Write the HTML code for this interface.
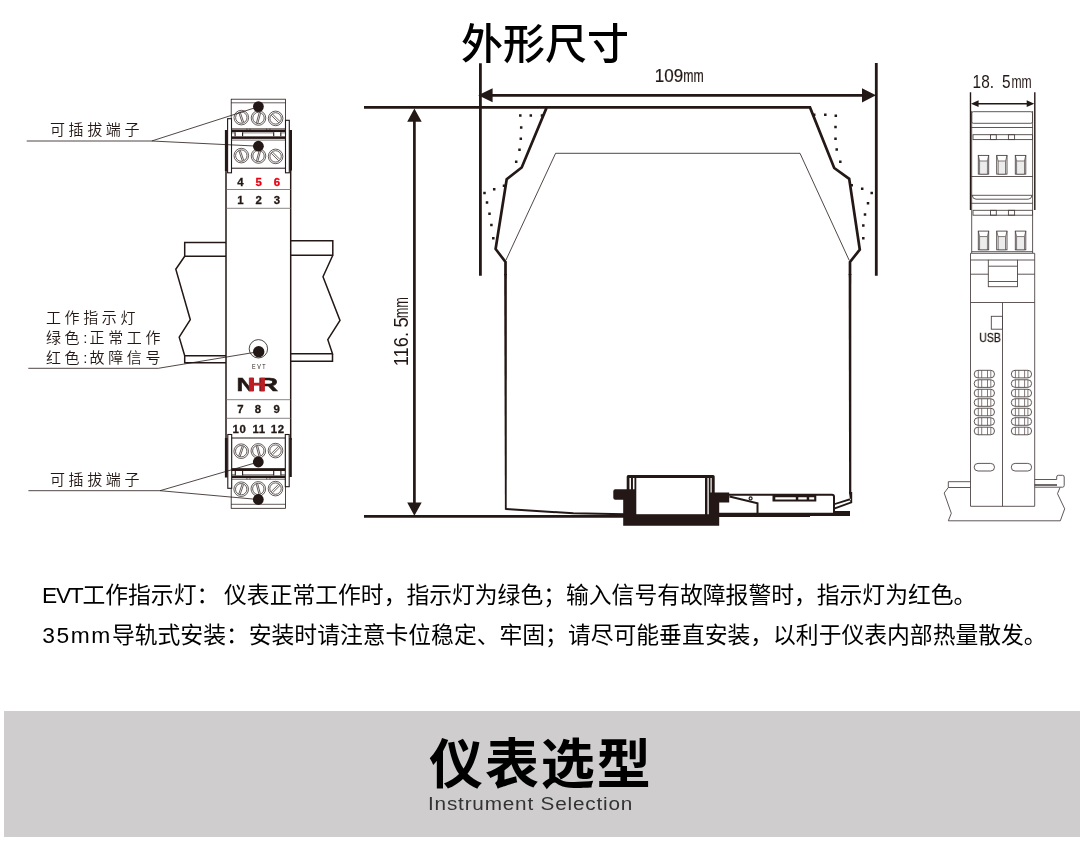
<!DOCTYPE html>
<html lang="zh-CN">
<head>
<meta charset="utf-8">
<title>外形尺寸</title>
<style>
html,body{margin:0;padding:0;background:#fff;}
body{width:1080px;height:849px;position:relative;overflow:hidden;font-family:"Liberation Sans","Noto Sans CJK SC",sans-serif;color:#000;}
#title{position:absolute;left:0;top:0;width:1080px;text-align:center;font-size:41px;font-weight:500;line-height:41px;color:#000;white-space:nowrap;}
#title span{position:absolute;left:461px;top:24px;font-size:42px;line-height:42px;}
.para{position:absolute;left:43px;white-space:nowrap;font-size:22.8px;line-height:30px;color:#000;font-weight:400;}
.para i{font-style:normal;}
#p1{top:580px;word-spacing:-1.5px;left:42.3px;}
#p2{top:620px;}
#banner{position:absolute;left:4px;top:711px;width:1076px;height:126px;background:#cfcdce;}
#bt{position:absolute;left:429px;top:735px;font-size:54px;line-height:60px;font-weight:700;white-space:nowrap;color:#000;letter-spacing:1.9px;}
#bs{position:absolute;left:428px;top:792px;font-size:19.2px;line-height:24px;white-space:nowrap;color:#333;letter-spacing:.75px;transform:scaleX(1.08);transform-origin:0 0;}
svg{position:absolute;left:0;top:0;}
#title,.para,#bt,#bs,svg{will-change:transform;}
svg text{font-family:"Liberation Sans","Noto Sans CJK SC",sans-serif;}
</style>
</head>
<body>
<div id="title"><span>外形尺寸</span></div>
<svg id="dw" width="1080" height="560" viewBox="0 0 1080 560">
<!--LEFT-->
<g id="left" fill="none" stroke-linecap="butt">
<path d="M226 242.5H184.7V256.3H226M184.7 256.3L175.8 269.2L190.3 319.7L179.2 337.2L184.7 355.8H226M184.7 355.8V362.8H226" stroke="#231815" stroke-width="1.5" stroke-linejoin="miter"/>
<path d="M290.7 240.8H332.8V255.3H290.7M332.8 255.3L323 276.7L340 320.5L327.8 339.7L332.5 353.8H290.7M332.5 353.8V361.3H290.7" stroke="#231815" stroke-width="1.5"/>
<rect x="226" y="168" width="64.7" height="272" fill="#fff" stroke="none"/>
<path d="M226 168V440M290.7 168V440" stroke="#231815" stroke-width="1.5"/>
<line x1="226" y1="189.5" x2="290.7" y2="189.5" stroke="#6b6765" stroke-width=".8"/>
<line x1="226" y1="208.3" x2="290.7" y2="208.3" stroke="#6b6765" stroke-width=".8"/>
<line x1="226" y1="399.7" x2="290.7" y2="399.7" stroke="#6b6765" stroke-width=".8"/>
<line x1="226" y1="418.3" x2="290.7" y2="418.3" stroke="#6b6765" stroke-width=".8"/>
<rect x="231.2" y="99.2" width="54.2" height="31" fill="#fff" stroke="#231815" stroke-width=".8"/>
<line x1="231.2" y1="102.8" x2="285.4" y2="102.8" stroke="#231815" stroke-width=".7"/>
<rect x="231.5" y="138" width="54" height="30.2" fill="#fff" stroke="#231815" stroke-width="1"/>
<line x1="231.5" y1="140.1" x2="285.5" y2="140.1" stroke="#231815" stroke-width=".6"/>
<path d="M231.5 128.6H285.5M246.9 128.6V130M250 128.6V130M266.7 128.6V130M270 128.6V130" stroke="#231815" stroke-width=".6"/>
<rect x="231" y="129.6" width="55" height="2.8" fill="#231815"/>
<rect x="231" y="136.1" width="55" height="2.7" fill="#231815"/>
<rect x="231.5" y="132.2" width="54" height="4.1" fill="#fff"/>
<path d="M235.1 132.2V136.3M242.6 132.2V136.3M273.7 132.2V136.3M280.8 132.2V136.3" stroke="#231815" stroke-width="1.1"/>
<path d="M231.5 132.9H235.1M242.6 132.9H273.7M280.8 132.9H285.5" stroke="#231815" stroke-width=".5"/>
<rect x="224.9" y="130" width="2.8" height="41" fill="#231815"/>
<rect x="289.2" y="130" width="2.8" height="40.5" fill="#231815"/>
<rect x="227.6" y="118.7" width="3.9" height="54.1" fill="#fff" stroke="#231815" stroke-width="1.1"/>
<rect x="285.5" y="120.3" width="3.8" height="52.5" fill="#fff" stroke="#231815" stroke-width="1.1"/>
<circle cx="241.3" cy="117.6" r="7.3" fill="#fff" stroke="#231815" stroke-width=".7"/>
<circle cx="241.3" cy="117.6" r="5.7" fill="none" stroke="#231815" stroke-width=".7"/>
<line x1="240.32" y1="112.44" x2="243.70" y2="122.27" stroke="#231815" stroke-width=".7"/>
<line x1="238.90" y1="112.93" x2="242.28" y2="122.76" stroke="#231815" stroke-width=".7"/>
<circle cx="241.3" cy="155.6" r="7.3" fill="#fff" stroke="#231815" stroke-width=".7"/>
<circle cx="241.3" cy="155.6" r="5.7" fill="none" stroke="#231815" stroke-width=".7"/>
<line x1="240.32" y1="150.44" x2="243.70" y2="160.27" stroke="#231815" stroke-width=".7"/>
<line x1="238.90" y1="150.93" x2="242.28" y2="160.76" stroke="#231815" stroke-width=".7"/>
<circle cx="258.5" cy="118.0" r="7.3" fill="#fff" stroke="#231815" stroke-width=".7"/>
<circle cx="258.5" cy="118.0" r="5.7" fill="none" stroke="#231815" stroke-width=".7"/>
<line x1="256.43" y1="122.83" x2="259.12" y2="112.78" stroke="#231815" stroke-width=".7"/>
<line x1="257.88" y1="123.22" x2="260.57" y2="113.17" stroke="#231815" stroke-width=".7"/>
<circle cx="258.5" cy="156.0" r="7.3" fill="#fff" stroke="#231815" stroke-width=".7"/>
<circle cx="258.5" cy="156.0" r="5.7" fill="none" stroke="#231815" stroke-width=".7"/>
<line x1="256.43" y1="160.83" x2="259.12" y2="150.78" stroke="#231815" stroke-width=".7"/>
<line x1="257.88" y1="161.22" x2="260.57" y2="151.17" stroke="#231815" stroke-width=".7"/>
<circle cx="275.6" cy="118.39999999999999" r="7.3" fill="#fff" stroke="#231815" stroke-width=".7"/>
<circle cx="275.6" cy="118.39999999999999" r="5.7" fill="none" stroke="#231815" stroke-width=".7"/>
<line x1="272.49" y1="114.02" x2="279.98" y2="121.51" stroke="#231815" stroke-width=".7"/>
<line x1="271.22" y1="115.29" x2="278.71" y2="122.78" stroke="#231815" stroke-width=".7"/>
<circle cx="275.6" cy="156.4" r="7.3" fill="#fff" stroke="#231815" stroke-width=".7"/>
<circle cx="275.6" cy="156.4" r="5.7" fill="none" stroke="#231815" stroke-width=".7"/>
<line x1="272.49" y1="152.02" x2="279.98" y2="159.51" stroke="#231815" stroke-width=".7"/>
<line x1="271.22" y1="153.29" x2="278.71" y2="160.78" stroke="#231815" stroke-width=".7"/>
<rect x="231.5" y="438" width="54" height="31" fill="#fff" stroke="#231815" stroke-width="1"/>
<rect x="231.2" y="477.5" width="54.3" height="30.8" fill="#fff" stroke="#231815" stroke-width=".8"/>
<line x1="231.2" y1="504.3" x2="285.5" y2="504.3" stroke="#231815" stroke-width=".7"/>
<path d="M231.5 479.3H285.5M246.9 479.3V477.8M250 479.3V477.8M266.7 479.3V477.8M270 479.3V477.8" stroke="#231815" stroke-width=".6"/>
<rect x="231" y="468.3" width="55" height="2.8" fill="#231815"/>
<rect x="231" y="475.3" width="55" height="2.8" fill="#231815"/>
<rect x="231.5" y="471.1" width="54" height="4.2" fill="#fff"/>
<path d="M235.3 471V475.5M242.6 471V475.5M273.7 471V475.5M280.9 471V475.5" stroke="#231815" stroke-width="1.1"/>
<path d="M231.5 474.6H235.1M242.6 474.6H273.7M280.8 474.6H285.5" stroke="#231815" stroke-width=".5"/>
<rect x="224.9" y="438" width="2.8" height="39.5" fill="#231815"/>
<rect x="289.2" y="438" width="2.6" height="39" fill="#231815"/>
<rect x="227.8" y="434.5" width="3.9" height="53.8" fill="#fff" stroke="#231815" stroke-width="1.1"/>
<rect x="285.3" y="434.5" width="3.9" height="52.2" fill="#fff" stroke="#231815" stroke-width="1.1"/>
<circle cx="241.2" cy="451.2" r="7.3" fill="#fff" stroke="#231815" stroke-width=".7"/>
<circle cx="241.2" cy="451.2" r="5.7" fill="none" stroke="#231815" stroke-width=".7"/>
<line x1="238.80" y1="455.87" x2="242.18" y2="446.04" stroke="#231815" stroke-width=".7"/>
<line x1="240.22" y1="456.36" x2="243.60" y2="446.53" stroke="#231815" stroke-width=".7"/>
<circle cx="241.2" cy="489.2" r="7.3" fill="#fff" stroke="#231815" stroke-width=".7"/>
<circle cx="241.2" cy="489.2" r="5.7" fill="none" stroke="#231815" stroke-width=".7"/>
<line x1="238.80" y1="493.87" x2="242.18" y2="484.04" stroke="#231815" stroke-width=".7"/>
<line x1="240.22" y1="494.36" x2="243.60" y2="484.53" stroke="#231815" stroke-width=".7"/>
<circle cx="258.3" cy="450.9" r="7.3" fill="#fff" stroke="#231815" stroke-width=".7"/>
<circle cx="258.3" cy="450.9" r="5.7" fill="none" stroke="#231815" stroke-width=".7"/>
<line x1="257.68" y1="445.68" x2="260.37" y2="455.73" stroke="#231815" stroke-width=".7"/>
<line x1="256.23" y1="446.07" x2="258.92" y2="456.12" stroke="#231815" stroke-width=".7"/>
<circle cx="258.3" cy="488.9" r="7.3" fill="#fff" stroke="#231815" stroke-width=".7"/>
<circle cx="258.3" cy="488.9" r="5.7" fill="none" stroke="#231815" stroke-width=".7"/>
<line x1="257.68" y1="483.68" x2="260.37" y2="493.73" stroke="#231815" stroke-width=".7"/>
<line x1="256.23" y1="484.07" x2="258.92" y2="494.12" stroke="#231815" stroke-width=".7"/>
<circle cx="275.5" cy="450.59999999999997" r="7.3" fill="#fff" stroke="#231815" stroke-width=".7"/>
<circle cx="275.5" cy="450.59999999999997" r="5.7" fill="none" stroke="#231815" stroke-width=".7"/>
<line x1="271.12" y1="453.71" x2="278.61" y2="446.22" stroke="#231815" stroke-width=".7"/>
<line x1="272.39" y1="454.98" x2="279.88" y2="447.49" stroke="#231815" stroke-width=".7"/>
<circle cx="275.5" cy="488.59999999999997" r="7.3" fill="#fff" stroke="#231815" stroke-width=".7"/>
<circle cx="275.5" cy="488.59999999999997" r="5.7" fill="none" stroke="#231815" stroke-width=".7"/>
<line x1="271.12" y1="491.71" x2="278.61" y2="484.22" stroke="#231815" stroke-width=".7"/>
<line x1="272.39" y1="492.98" x2="279.88" y2="485.49" stroke="#231815" stroke-width=".7"/>
<circle cx="258.4" cy="348.8" r="9.2" fill="#fff" stroke="#231815" stroke-width=".8"/>
<circle cx="258.7" cy="351.7" r="5.7" fill="#231815"/>
<path d="M26.7 141H151.7L258.4 106.7M151.7 141L258.4 146.2" stroke="#231815" stroke-width=".8"/>
<path d="M28.4 490.7H160L258.3 462M160 490.7L258.3 499.5" stroke="#231815" stroke-width=".8"/>
<path d="M28.3 368.3H158.3L258.7 351.7" stroke="#231815" stroke-width=".8"/>
<circle cx="258.4" cy="106.6" r="5.4" fill="#231815"/>
<circle cx="258.4" cy="146.2" r="5.4" fill="#231815"/>
<circle cx="258.3" cy="462" r="5.4" fill="#231815"/>
<circle cx="258.3" cy="499.5" r="5.4" fill="#231815"/>
<text x="240.3" y="186.39999999999998" text-anchor="middle" font-size="11.4" font-weight="700" fill="#231815" stroke="#231815" stroke-width=".3">4</text>
<text x="258.7" y="186.39999999999998" text-anchor="middle" font-size="11.4" font-weight="700" fill="#e60012" stroke="#e60012" stroke-width=".3">5</text>
<text x="277" y="186.39999999999998" text-anchor="middle" font-size="11.4" font-weight="700" fill="#e60012" stroke="#e60012" stroke-width=".3">6</text>
<text x="240.3" y="203.5" text-anchor="middle" font-size="11.4" font-weight="700" fill="#231815" stroke="#231815" stroke-width=".3">1</text>
<text x="258.7" y="203.5" text-anchor="middle" font-size="11.4" font-weight="700" fill="#231815" stroke="#231815" stroke-width=".3">2</text>
<text x="277" y="203.5" text-anchor="middle" font-size="11.4" font-weight="700" fill="#231815" stroke="#231815" stroke-width=".3">3</text>
<text x="240.5" y="413.0" text-anchor="middle" font-size="11.4" font-weight="700" fill="#231815" stroke="#231815" stroke-width=".3">7</text>
<text x="258" y="413.0" text-anchor="middle" font-size="11.4" font-weight="700" fill="#231815" stroke="#231815" stroke-width=".3">8</text>
<text x="276.7" y="413.0" text-anchor="middle" font-size="11.4" font-weight="700" fill="#231815" stroke="#231815" stroke-width=".3">9</text>
<text x="239.54999999999998" y="432.7" text-anchor="middle" font-size="11.4" letter-spacing=".7" font-weight="700" fill="#231815" stroke="#231815" stroke-width=".3">10</text>
<text x="259.15000000000003" y="432.7" text-anchor="middle" font-size="11.4" letter-spacing=".7" font-weight="700" fill="#231815" stroke="#231815" stroke-width=".3">11</text>
<text x="277.85" y="432.7" text-anchor="middle" font-size="11.4" letter-spacing=".7" font-weight="700" fill="#231815" stroke="#231815" stroke-width=".3">12</text>
<text transform="translate(252,368.9) scale(.82,1)" font-size="6.6" letter-spacing="1.9" fill="#231815" stroke="none">EVT</text>
<g font-size="17.6" font-weight="700" stroke-width=".5" stroke-linejoin="miter"><text transform="translate(236.6,390.6) scale(1.46,1)" fill="#231815" stroke="#231815">N</text><text transform="translate(258.1,390.6) scale(1.58,1)" fill="#231815" stroke="#231815">R</text><text transform="translate(247.5,390.6) scale(1.48,1)" fill="#bd1e24" stroke="#bd1e24">H</text></g>
<text x="50" y="135" font-size="15" font-weight="350" letter-spacing="3.6" fill="#231815" stroke="none">可插拔端子</text>
<text x="50" y="484.5" font-size="15" font-weight="350" letter-spacing="3.6" fill="#231815" stroke="none">可插拔端子</text>
<text x="46" y="323" font-size="15" font-weight="350" letter-spacing="3.6" fill="#231815" stroke="none">工作指示灯</text>
<text x="46" y="343" font-size="15" font-weight="350" letter-spacing="3.6" fill="#231815" stroke="none">绿色<tspan letter-spacing="2.2">:</tspan>正常工作</text>
<text x="46" y="363" font-size="15" font-weight="350" letter-spacing="3.6" fill="#231815" stroke="none">红色<tspan letter-spacing="2.2">:</tspan>故障信号</text>
</g>
<!--/LEFT-->
<!--MID-->
<g id="mid" fill="none">
<path d="M506 260L555.6 153.3H800L849.2 260.3" stroke="#231815" stroke-width=".8"/>
<path d="M480.4 63.3V275.7M876.3 63V275.8" stroke="#231815" stroke-width="2.8"/>
<path d="M364 107.4H547M364 516.4H625" stroke="#231815" stroke-width="2.7"/>
<path d="M490 95.3H865M414.4 119V505" stroke="#231815" stroke-width="2.7"/>
<path d="M478.2 95.3L492.6 88.3V102.3ZM876 95.3L862 88.3V102.4ZM414.4 108.4L407.2 121.8H421.7ZM414.4 515.8L407.2 502.6H421.7Z" fill="#231815"/>
<path d="M505.5 275V262L495.6 249L506.7 179.2L521.7 167.5L546.7 107.4H810L834.2 168L849.2 178.8L859.8 249.7L850 262V275" stroke="#231815" stroke-width="2.7" stroke-linejoin="miter"/>
<path d="M504.15 274H506.85L506.7 509.8H504.9Z" fill="#231815"/>
<path d="M848.65 274H851.35L851.3 494H849.1Z" fill="#231815"/>
<path d="M848.9 492H852.2V503L834.5 509.6V507.6L850.3 501.8Z M850 498.2L834.5 503.2V505L851 500Z" fill="#231815"/>
<path d="M505.8 509.1L573.3 513.2L625 514.3" stroke="#231815" stroke-width="2"/>
<path d="M628.2 475H713.2Q714.7 475 714.7 476.5V492.5H729.2V502.5H719.2V525.8H623.2V499.7H615.3Q613.3 499.7 613.3 497.7V491.2Q613.3 489.2 615.3 489.2H626.7V476.5Q626.7 475 628.2 475Z" fill="#231815"/>
<rect x="636.3" y="478" width="68.7" height="36.2" fill="#fff"/>
<path d="M630.2 478V489.2M633.7 478V489.2" stroke="#fff" stroke-width="1.5"/>
<path d="M708.1 478V514.2" stroke="#fff" stroke-width="1.3"/><path d="M711.1 478V492.5" stroke="#fff" stroke-width="1.2"/>
<path d="M729 494.8H832Q834 494.8 834 496.8V514" stroke="#231815" stroke-width="2"/>
<path d="M719 514.4H850" stroke="#231815" stroke-width="3.2"/>
<path d="M719 516.2H810" stroke="#231815" stroke-width="1.6"/>
<rect x="833.5" y="511" width="16.5" height="5" fill="#231815"/>
<path d="M729.5 496.5L757.5 503.4V514" stroke="#231815" stroke-width="2" stroke-linejoin="miter"/>
<circle cx="750.6" cy="498.4" r="1.5" fill="#fff" stroke="#231815" stroke-width="1.2"/>
<path d="M772.5 495H816.3V501.4H772.5Z" fill="#231815"/>
<path d="M775.3 497.2H795.8V499.5H775.3ZM798.3 497.2H806.7V499.5H798.3ZM809.2 497.2H814.2V499.5H809.2Z" fill="#fff"/>
<path d="M519.05 114.25h2.5v2.5h-2.5zM529.55 114.25h2.5v2.5h-2.5zM540.75 114.25h2.5v2.5h-2.5zM519.95 126.25h2.5v2.5h-2.5zM519.55 137.45h2.5v2.5h-2.5zM518.25 148.45h2.5v2.5h-2.5zM514.95 160.45h2.5v2.5h-2.5zM502.75 184.55h2.5v2.5h-2.5zM492.95 187.95h2.5v2.5h-2.5zM483.25 191.75h2.5v2.5h-2.5zM485.75 201.25h2.5v2.5h-2.5zM488.25 212.55h2.5v2.5h-2.5zM490.15 223.75h2.5v2.5h-2.5zM492.05 237.05h2.5v2.5h-2.5zM812.95 113.45h2.5v2.5h-2.5zM824.05 113.45h2.5v2.5h-2.5zM834.55 114.55h2.5v2.5h-2.5zM834.25 125.75h2.5v2.5h-2.5zM834.25 137.45h2.5v2.5h-2.5zM835.45 148.25h2.5v2.5h-2.5zM839.05 160.45h2.5v2.5h-2.5zM850.45 184.05h2.5v2.5h-2.5zM860.95 187.45h2.5v2.5h-2.5zM870.45 191.75h2.5v2.5h-2.5zM866.75 202.05h2.5v2.5h-2.5zM863.75 213.25h2.5v2.5h-2.5zM862.05 224.25h2.5v2.5h-2.5zM862.05 237.05h2.5v2.5h-2.5z" fill="#231815"/>
<text transform="translate(654.8,81.7) scale(.93,1)" font-size="18.3" fill="#231815" stroke="#231815" stroke-width=".2">109</text>
<text transform="translate(683.2,81.7) scale(.66,1)" font-size="18.6" fill="#231815" stroke="#231815" stroke-width=".2">mm</text>
<text transform="translate(407.5,366.2) rotate(-90) scale(.9,1)" font-size="20.3" fill="#231815">116.</text>
<text transform="translate(407.5,327.6) rotate(-90) scale(.9,1)" font-size="20.3" fill="#231815">5</text>
<text transform="translate(407.5,318.3) rotate(-90) scale(.63,1)" font-size="20.3" fill="#231815">mm</text>
</g>
<!--/MID-->
<!--RIGHT-->
<g id="right" fill="none" stroke="#4d4544" stroke-width=".9">
<rect x="971.7" y="111.7" width="60.8" height="11.6" rx="1.6"/>
<path d="M971.7 111V253M1032.6 111V253"/>
<path d="M971 127.5H1033M971 176.5H1033M971 203.3H1033"/>
<rect x="973" y="134.7" width="59.5" height="4.9"/>
<rect x="990.5" y="134.7" width="5.8" height="4.9"/><rect x="1008.4" y="134.7" width="6.2" height="4.9"/>
<rect x="973" y="210.3" width="59.5" height="4.9"/>
<rect x="990.5" y="210.3" width="5.8" height="4.9"/><rect x="1008.4" y="210.3" width="6.2" height="4.9"/>
<rect x="978.3" y="155.4" width="10.4" height="18.7"/>
<rect x="979.7" y="161.0" width="7.6" height="13.1" fill="#ececec" stroke-width=".7"/>
<path d="M978.3 155.4l1.4 5.6M988.7 155.4l-1.4 5.6" stroke-width=".7"/>
<rect x="996.7" y="155.4" width="10.3" height="18.7"/>
<rect x="998.1" y="161.0" width="7.5" height="13.1" fill="#ececec" stroke-width=".7"/>
<path d="M996.7 155.4l1.4 5.6M1007 155.4l-1.4 5.6" stroke-width=".7"/>
<rect x="1015.3" y="155.4" width="10.5" height="18.7"/>
<rect x="1016.7" y="161.0" width="7.7" height="13.1" fill="#ececec" stroke-width=".7"/>
<path d="M1015.3 155.4l1.4 5.6M1025.8 155.4l-1.4 5.6" stroke-width=".7"/>
<rect x="978.3" y="231.1" width="10.4" height="18.7"/>
<rect x="979.7" y="236.7" width="7.6" height="13.1" fill="#ececec" stroke-width=".7"/>
<path d="M978.3 231.1l1.4 5.6M988.7 231.1l-1.4 5.6" stroke-width=".7"/>
<rect x="996.7" y="231.1" width="10.3" height="18.7"/>
<rect x="998.1" y="236.7" width="7.5" height="13.1" fill="#ececec" stroke-width=".7"/>
<path d="M996.7 231.1l1.4 5.6M1007 231.1l-1.4 5.6" stroke-width=".7"/>
<rect x="1015.3" y="231.1" width="10.5" height="18.7"/>
<rect x="1016.7" y="236.7" width="7.7" height="13.1" fill="#ececec" stroke-width=".7"/>
<path d="M1015.3 231.1l1.4 5.6M1025.8 231.1l-1.4 5.6" stroke-width=".7"/>
<path d="M971.7 195.3H1032.5M972.2 195.3Q972.6 199.2 976 199.2H1028.2Q1031.6 199.2 1032 195.3"/>
<path d="M971.7 251.7H1032.6M970.5 253.3H1034.7"/>
<path d="M970.5 253.3V506.3H1034.7V253.3"/>
<path d="M970.5 260H988.3M1017.5 260H1034.7M970.5 274.2H988.3M1017.5 274.2H1034.7M970.5 302.5H1034.7"/>
<rect x="988.3" y="260" width="29.2" height="26.7"/>
<path d="M988.3 266.2H1017.5M988.3 281.5H1017.5"/>
<path d="M1002.5 302.5V506.3"/>
<rect x="991.3" y="316.3" width="11.2" height="12.9"/>
<rect x="974.2" y="370.30" width="20.3" height="7.6" rx="3.8"/>
<path d="M978.3 370.30v7.6M981.7 370.30v7.6M987.5 370.30v7.6M990.8 370.30v7.6" stroke-width=".7"/>
<rect x="1011.3" y="370.30" width="20.3" height="7.6" rx="3.8"/>
<path d="M1015.4 370.30v7.6M1018.8 370.30v7.6M1024.6 370.30v7.6M1027.9 370.30v7.6" stroke-width=".7"/>
<rect x="974.2" y="379.78" width="20.3" height="7.6" rx="3.8"/>
<path d="M978.3 379.78v7.6M981.7 379.78v7.6M987.5 379.78v7.6M990.8 379.78v7.6" stroke-width=".7"/>
<rect x="1011.3" y="379.78" width="20.3" height="7.6" rx="3.8"/>
<path d="M1015.4 379.78v7.6M1018.8 379.78v7.6M1024.6 379.78v7.6M1027.9 379.78v7.6" stroke-width=".7"/>
<rect x="974.2" y="389.26" width="20.3" height="7.6" rx="3.8"/>
<path d="M978.3 389.26v7.6M981.7 389.26v7.6M987.5 389.26v7.6M990.8 389.26v7.6" stroke-width=".7"/>
<rect x="1011.3" y="389.26" width="20.3" height="7.6" rx="3.8"/>
<path d="M1015.4 389.26v7.6M1018.8 389.26v7.6M1024.6 389.26v7.6M1027.9 389.26v7.6" stroke-width=".7"/>
<rect x="974.2" y="398.74" width="20.3" height="7.6" rx="3.8"/>
<path d="M978.3 398.74v7.6M981.7 398.74v7.6M987.5 398.74v7.6M990.8 398.74v7.6" stroke-width=".7"/>
<rect x="1011.3" y="398.74" width="20.3" height="7.6" rx="3.8"/>
<path d="M1015.4 398.74v7.6M1018.8 398.74v7.6M1024.6 398.74v7.6M1027.9 398.74v7.6" stroke-width=".7"/>
<rect x="974.2" y="408.22" width="20.3" height="7.6" rx="3.8"/>
<path d="M978.3 408.22v7.6M981.7 408.22v7.6M987.5 408.22v7.6M990.8 408.22v7.6" stroke-width=".7"/>
<rect x="1011.3" y="408.22" width="20.3" height="7.6" rx="3.8"/>
<path d="M1015.4 408.22v7.6M1018.8 408.22v7.6M1024.6 408.22v7.6M1027.9 408.22v7.6" stroke-width=".7"/>
<rect x="974.2" y="417.70" width="20.3" height="7.6" rx="3.8"/>
<path d="M978.3 417.70v7.6M981.7 417.70v7.6M987.5 417.70v7.6M990.8 417.70v7.6" stroke-width=".7"/>
<rect x="1011.3" y="417.70" width="20.3" height="7.6" rx="3.8"/>
<path d="M1015.4 417.70v7.6M1018.8 417.70v7.6M1024.6 417.70v7.6M1027.9 417.70v7.6" stroke-width=".7"/>
<rect x="974.2" y="427.18" width="20.3" height="7.6" rx="3.8"/>
<path d="M978.3 427.18v7.6M981.7 427.18v7.6M987.5 427.18v7.6M990.8 427.18v7.6" stroke-width=".7"/>
<rect x="1011.3" y="427.18" width="20.3" height="7.6" rx="3.8"/>
<path d="M1015.4 427.18v7.6M1018.8 427.18v7.6M1024.6 427.18v7.6M1027.9 427.18v7.6" stroke-width=".7"/>
<rect x="974.2" y="463.40" width="20.3" height="7.6" rx="3.8"/>
<rect x="1011.3" y="463.40" width="20.3" height="7.6" rx="3.8"/>
<path d="M970.5 481.7H948.3V487.5H970.5M948.3 487.5L944.2 493L951.3 513.3L948.3 520.8H1060.3L1064.7 508.8L1057.5 493.7L1060 487.5"/>
<path d="M1034.7 479.5H1056.7V477Q1056.7 475.3 1058.4 475.3H1062.5Q1064.2 475.3 1064.2 477V485.5Q1064.2 487.2 1062.5 487.2H1034.7"/>
<path d="M1034.7 485H1057" stroke="#231815" stroke-width="1.3"/>
<path d="M970.5 92.2V210M1034.8 92.2V210" stroke="#231815" stroke-width="1.4"/>
<path d="M976 103.7H1029" stroke="#231815" stroke-width="1.4"/>
<path d="M971 103.7L978.6 100.3V107.1ZM1034.3 103.7L1026.7 100.3V107.1Z" fill="#231815" stroke="none"/>
<text transform="translate(972.6,87.5) scale(.86,1)" font-size="17.9" fill="#231815" stroke="none">18.</text>
<text transform="translate(1001.9,87.5) scale(.86,1)" font-size="17.9" fill="#231815" stroke="none">5</text>
<text transform="translate(1011.4,87.5) scale(.68,1)" font-size="17.9" fill="#231815" stroke="none">mm</text>
<text transform="translate(979.3,342) scale(.87,1)" font-size="12.1" fill="#231815" stroke="#231815" stroke-width=".25">USB</text>
</g>
<!--/RIGHT-->
</svg>
<div class="para" id="p1"><i style="letter-spacing:-1.3px">EVT</i>工作指示灯： 仪表正常工作时，指示灯为绿色；输入信号有故障报警时，指示灯为红色。</div>
<div class="para" id="p2"><i style="letter-spacing:1.6px;margin-left:-0.8px">35mm</i>导轨式安装：安装时请注意卡位稳定、牢固；请尽可能垂直安装，以利于仪表内部热量散发。</div>
<div id="banner"></div>
<div id="bt">仪表选型</div>
<div id="bs">Instrument Selection</div>
</body>
</html>
